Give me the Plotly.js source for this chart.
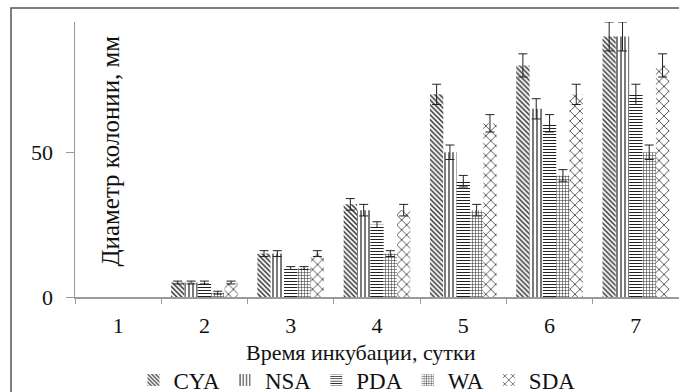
<!DOCTYPE html>
<html><head><meta charset="utf-8">
<script src="https://cdn.plot.ly/plotly-3.0.1.min.js"></script>
<style>html,body{margin:0;padding:0;background:#fff}#c{width:679px;height:392px}</style>
</head><body><div id="c"></div>
<script>
const days = ['1','2','3','4','5','6','7'];
const seriesNames = ['CYA','NSA','PDA','WA','SDA'];
const cya = [0, 5, 15, 32, 70, 80, 90];
const nsa = [0, 5, 15, 30, 50, 65, 90];
const pda = [0, 5, 10, 25, 40, 60, 70];
const wa  = [0, 1.5, 10, 15, 30, 42, 50];
const sda = [0, 5, 15, 30, 60, 70, 80];
const cyaErr = [NaN, 0.5, 1, 2, 3.5, 4, 5];
const nsaErr = [NaN, 0.5, 1, 2, 2.5, 3.5, 5];
const pdaErr = [NaN, 0.5, 0.5, 1, 2, 3, 3.5];
const waErr  = [NaN, 0.5, 0.5, 1, 2, 2, 2.5];
const sdaErr = [NaN, 0.5, 1, 2, 3, 3.5, 4];
const yTitle = 'Диаметр колонии, мм';
const xTitle = 'Время инкубации, сутки';

const values = [cya, nsa, pda, wa, sda];
const errs = [cyaErr, nsaErr, pdaErr, waErr, sdaErr];
const patterns = [
  {shape:'\\', size:3.5, solidity:0.4},
  {shape:'|', size:4, solidity:0.3},
  {shape:'-', size:3, solidity:0.35},
  {shape:'+', size:3, solidity:0.3},
  {shape:'x', size:7, solidity:0.2}
];
const FONT = 'Liberation Serif';
const TFONT = 'Times New Roman';
const traces = seriesNames.map((n,i)=>({
  type:'bar', name:n, x:days, y:values[i],
  marker:{color:'#fff', line:{width:0},
    pattern:Object.assign({fgcolor:'#222', bgcolor:'#fff', fillmode:'replace'}, patterns[i])},
  error_y:{type:'data', array:errs[i], visible:true, color:'#222', thickness:1, width:4.5}
}));
const layout = {
  width:679, height:392,
  margin:{l:75, r:0, t:22, b:95, autoexpand:false},
  paper_bgcolor:'#fff', plot_bgcolor:'#fff',
  barmode:'group', bargap:0.227, bargroupgap:0,
  font:{family:FONT, color:'#111', size:21},
  showlegend:true,
  legend:{orientation:'h', xref:'container', yref:'container', x:357/679, xanchor:'center', y:1-380/392, yanchor:'middle',
    font:{size:23, family:TFONT}, itemwidth:30, tracegroupgap:0, bgcolor:'rgba(0,0,0,0)'},
  xaxis:{type:'category', showline:true, linecolor:'#9a9a9a', linewidth:1.5,
    ticks:'outside', tickson:'boundaries', ticklen:5, tickcolor:'#9a9a9a',
    ticklabelstandoff:8, tickfont:{size:22, family:FONT}, showgrid:false, zeroline:false, automargin:false},
  yaxis:{range:[0,95], showline:true, linecolor:'#9a9a9a', linewidth:1.5,
    ticks:'outside', ticklen:8, tickcolor:'#9a9a9a', tickvals:[0,50], ticktext:['0','50'],
    ticklabelstandoff:8, tickfont:{size:22, family:FONT}, showgrid:false, zeroline:false, automargin:false},
  annotations:[
    {text:yTitle, xref:'paper', yref:'paper', x:0.058, y:0.529, textangle:-90,
      showarrow:false, xanchor:'center', yanchor:'middle', font:{size:25, family:TFONT}},
    {text:xTitle, xref:'paper', yref:'paper', x:0.4735, y:-0.2, showarrow:false,
      xanchor:'center', yanchor:'middle', font:{size:22, family:TFONT}}
  ],
  shapes:[
    {type:'rect', xref:'paper', yref:'paper', x0:(11-75)/604, x1:1.05, y0:-0.5, y1:(297-8)/275,
      line:{color:'#555', width:1.5}, fillcolor:'rgba(0,0,0,0)', layer:'below'}
  ]
};
Plotly.newPlot('c', traces, layout, {staticPlot:true});
</script></body></html>
